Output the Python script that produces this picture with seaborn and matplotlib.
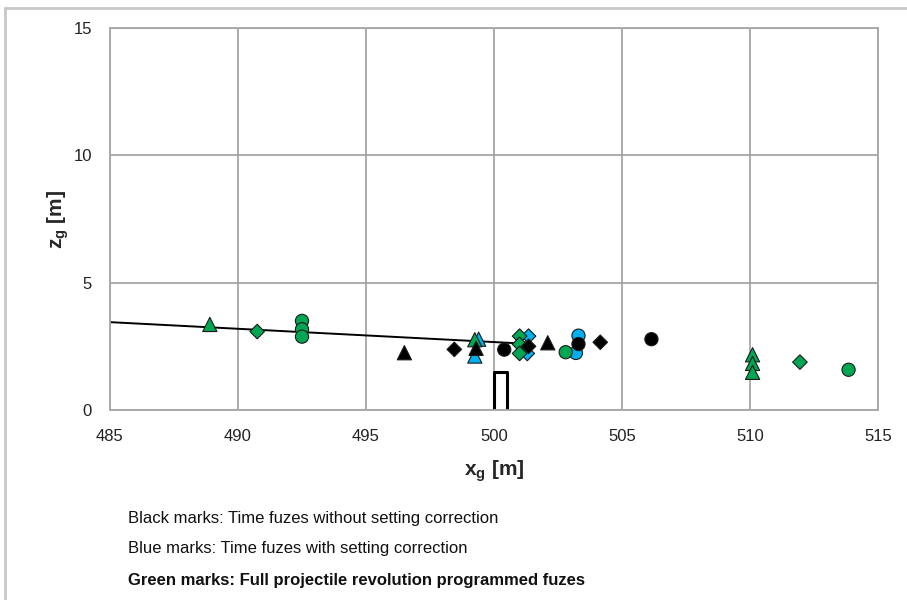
import pandas as pd
import matplotlib
matplotlib.use("Agg")
import matplotlib.pyplot as plt
import seaborn as sns
from matplotlib.lines import Line2D

# burst points (x_g, z_g in metres)
blue_x = [499.4, 499.25, 501.35, 501.3, 503.3, 503.2]
blue_z = [2.78, 2.12, 2.90, 2.22, 2.92, 2.24]
blue_shape = ["triangle", "triangle", "diamond", "diamond", "circle", "circle"]

green_x = [488.9, 490.75, 492.5, 492.5, 492.5, 499.25, 501.0, 501.0, 501.0,
           502.8, 510.1, 510.1, 510.1, 511.95, 513.85]
green_z = [3.36, 3.08, 3.50, 3.17, 2.88, 2.76, 2.90, 2.58, 2.22,
           2.27, 2.17, 1.83, 1.48, 1.88, 1.58]
green_shape = ["triangle", "diamond", "circle", "circle", "circle", "triangle",
               "diamond", "diamond", "diamond", "circle", "triangle", "triangle",
               "triangle", "diamond", "circle"]

black_x = [496.5, 498.45, 499.3, 500.4, 501.35, 502.1, 503.3, 504.15, 506.15]
black_z = [2.25, 2.38, 2.42, 2.37, 2.50, 2.64, 2.59, 2.66, 2.78]
black_shape = ["triangle", "diamond", "triangle", "circle", "diamond",
               "triangle", "circle", "diamond", "circle"]

# trajectory line and target outline
traj_x = [485.0, 501.3]
traj_z = [3.45, 2.60]
target_x = [500.0, 500.0, 500.5, 500.5]
target_z = [0.0, 1.5, 1.5, 0.0]

x_ticks = [485, 490, 495, 500, 505, 510, 515]
z_ticks = [0, 5, 10, 15]

notes = ["Black marks: Time fuzes without setting correction",
         "Blue marks: Time fuzes with setting correction",
         "Green marks: Full projectile revolution programmed fuzes"]

df = pd.concat([
    pd.DataFrame({"x": blue_x, "z": blue_z, "shape": blue_shape, "group": "blue"}),
    pd.DataFrame({"x": green_x, "z": green_z, "shape": green_shape, "group": "green"}),
    pd.DataFrame({"x": black_x, "z": black_z, "shape": black_shape, "group": "black"}),
], ignore_index=True)

sns.set_style("white")
plt.rcParams["font.family"] = ["Liberation Sans", "DejaVu Sans"]
plt.rcParams["mathtext.fontset"] = "custom"
plt.rcParams["mathtext.rm"] = "Liberation Sans"
plt.rcParams["mathtext.bf"] = "Liberation Sans:bold"

fig = plt.figure(figsize=(9.07, 6.0), dpi=100)
ax = fig.add_axes([110 / 907, 1 - 410 / 600, 768 / 907, 382 / 600])

grid_col = "#a6a6a6"
ax.grid(True, color=grid_col, linewidth=1.3)
ax.set_axisbelow(True)

sns.lineplot(x=traj_x, y=traj_z, ax=ax, color="black", linewidth=1.4, zorder=2)
ax.plot(target_x, target_z, color="black", linewidth=2.2, zorder=2)

sns.scatterplot(data=df, x="x", y="z", hue="group", style="shape", size="shape",
                palette={"blue": "#00b0f0", "green": "#00a651", "black": "black"},
                markers={"circle": "o", "triangle": "^", "diamond": "D"},
                sizes={"circle": 90, "triangle": 105, "diamond": 55},
                edgecolor="#1a1a1a", linewidth=0.8,
                legend=False, ax=ax, zorder=3)

ax.set_xlim(485, 515)
ax.set_ylim(0, 15)
ax.set_xticks(x_ticks)
ax.set_yticks(z_ticks)
ax.tick_params(axis="both", direction="out", length=5, width=1, color=grid_col,
               labelsize=12, labelcolor="#222222")
ax.tick_params(axis="x", pad=9)
ax.tick_params(axis="y", pad=8)
for sp in ax.spines.values():
    sp.set_color(grid_col)
    sp.set_linewidth(1.3)

ax.set_xlabel(r"$\mathbf{x_g}$ [m]", fontsize=15, fontweight="bold", labelpad=10)
ax.set_ylabel(r"$\mathbf{z_g}$ [m]", fontsize=15, fontweight="bold", labelpad=2)

for i, t in enumerate(notes):
    fig.text(128 / 907, 1 - (518 + 31 * i) / 600, t, fontsize=12, va="center",
             ha="left", fontweight="bold" if i == 2 else "normal", color="#111111")

# light frame around chart area
fig.add_artist(Line2D([5 / 907, 1], [1 - 8 / 600, 1 - 8 / 600],
                      transform=fig.transFigure, color="#c8c8c8", linewidth=2))
fig.add_artist(Line2D([5 / 907, 5 / 907], [0, 1 - 8 / 600],
                      transform=fig.transFigure, color="#c8c8c8", linewidth=2))

fig.savefig("out.png", dpi=100)
